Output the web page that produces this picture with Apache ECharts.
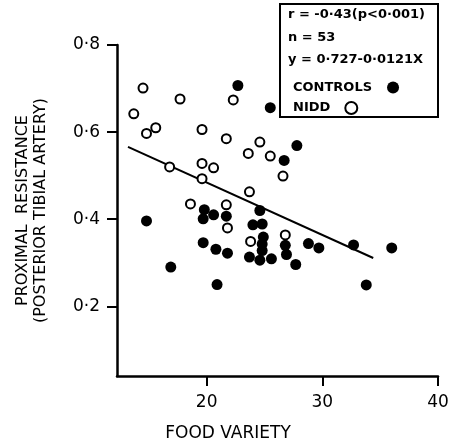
<!DOCTYPE html>
<html>
<head>
<meta charset="utf-8">
<script src="https://cdn.jsdelivr.net/npm/echarts@6/dist/echarts.min.js"></script>
<style>
  html, body { margin: 0; padding: 0; background: #fff; }
  #chart { width: 457px; height: 447px; }
</style>
</head>
<body>
<div id="chart"></div>
<script>
// food variety (x) vs proximal resistance (y)
var controls = [
  [22.7, 0.707], [25.5, 0.656], [27.8, 0.569], [26.7, 0.535],
  [14.8, 0.396], [16.9, 0.290], [20.9, 0.250], [19.7, 0.346],
  [20.8, 0.331], [21.8, 0.322], [19.8, 0.422], [20.6, 0.410],
  [19.7, 0.401], [21.7, 0.407], [24.6, 0.420], [24.0, 0.387],
  [24.8, 0.389], [24.9, 0.359], [24.8, 0.343], [24.8, 0.328],
  [23.7, 0.313], [24.6, 0.306], [25.6, 0.309], [26.8, 0.340],
  [26.9, 0.319], [27.7, 0.296], [28.8, 0.344], [29.7, 0.334],
  [32.7, 0.341], [36.0, 0.334], [33.8, 0.249]
];
var nidd = [
  [14.5, 0.701], [13.7, 0.642], [17.7, 0.676], [22.3, 0.674],
  [14.8, 0.597], [15.6, 0.610], [19.6, 0.606], [21.7, 0.585],
  [24.6, 0.577], [23.6, 0.551], [25.5, 0.545], [26.6, 0.499],
  [19.6, 0.528], [20.6, 0.518], [19.6, 0.493], [16.8, 0.520],
  [23.7, 0.463], [18.6, 0.435], [21.7, 0.433], [21.8, 0.380],
  [23.8, 0.349], [26.8, 0.364]
];
var fitLine = [[13.2, 0.566], [34.4, 0.311]];
var xTicks = [20, 30, 40];
var yTicks = [0.2, 0.4, 0.6, 0.8];
var statLines = ['r = -0·43(p<0·001)', 'n = 53', 'y = 0·727-0·0121X'];

var font = 'DejaVu Sans';
var chart = echarts.init(document.getElementById('chart'));

// one legend per entry so each icon sits right after its own text
function legendFor(name, top) {
  return {
    orient: 'vertical',
    left: 288,
    top: top,
    align: 'right',
    itemWidth: 12,
    itemHeight: 12,
    textStyle: { fontFamily: font, fontSize: 13, fontWeight: 'bold', color: '#000', padding: [0, 10, 0, 0] },
    data: [name]
  };
}

chart.setOption({
  animation: false,
  backgroundColor: '#fff',
  grid: { left: 117, right: 19, top: 45, bottom: 69 },
  xAxis: {
    type: 'value',
    min: 12.25,
    max: 40,
    name: 'FOOD VARIETY',
    nameLocation: 'middle',
    nameGap: 49,
    nameTextStyle: { fontFamily: font, fontSize: 17, color: '#000', padding: [0, 99, 0, 0] },
    splitLine: { show: false },
    axisLine: { lineStyle: { color: '#000', width: 2.5 } },
    axisTick: { customValues: xTicks, length: 10, lineStyle: { color: '#000', width: 2 } },
    axisLabel: { customValues: xTicks, margin: 18, fontFamily: font, fontSize: 17, color: '#000' }
  },
  yAxis: {
    type: 'value',
    min: 0.04,
    max: 0.8,
    name: 'PROXIMAL  RESISTANCE\n(POSTERIOR TIBIAL ARTERY)',
    nameLocation: 'middle',
    nameGap: 67,
    nameTextStyle: { fontFamily: font, fontSize: 16, color: '#000', lineHeight: 18 },
    splitLine: { show: false },
    axisLine: { lineStyle: { color: '#000', width: 2.5 } },
    axisTick: { customValues: yTicks, length: 10, lineStyle: { color: '#000', width: 2 } },
    axisLabel: {
      customValues: yTicks, margin: 17, fontFamily: font, fontSize: 17, color: '#000',
      formatter: function (v) { return v.toFixed(1).replace('.', '·'); }
    }
  },
  legend: [legendFor('CONTROLS', 76), legendFor('NIDD', 96)],
  graphic: [
    {
      type: 'rect',
      shape: { x: 280, y: 4, width: 158, height: 113 },
      style: { fill: '#fff', stroke: '#000', lineWidth: 2 },
      z: -1
    },
    {
      type: 'text', left: 288, top: 8,
      style: { text: statLines[0], font: 'bold 13px ' + font, fill: '#000' }
    },
    {
      type: 'text', left: 288, top: 31,
      style: { text: statLines[1], font: 'bold 13px ' + font, fill: '#000' }
    },
    {
      type: 'text', left: 288, top: 53,
      style: { text: statLines[2], font: 'bold 13px ' + font, fill: '#000' }
    }
  ],
  series: [
    {
      name: 'CONTROLS',
      type: 'scatter',
      data: controls,
      symbol: 'circle',
      symbolSize: 11,
      itemStyle: { color: '#000', opacity: 1 },
      z: 3
    },
    {
      name: 'NIDD',
      type: 'scatter',
      data: nidd,
      symbol: 'circle',
      symbolSize: 9,
      itemStyle: { color: '#fff', borderColor: '#000', borderWidth: 2, opacity: 1 },
      z: 4
    },
    {
      type: 'line',
      data: fitLine,
      showSymbol: false,
      symbol: 'none',
      lineStyle: { color: '#000', width: 2 },
      z: 2
    }
  ]
});
</script>
</body>
</html>
